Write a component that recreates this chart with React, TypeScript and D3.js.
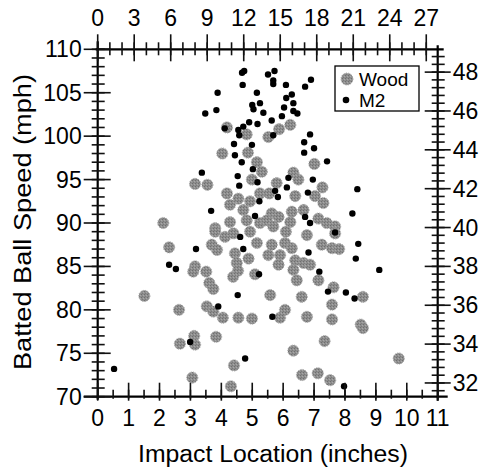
import React from "react";
import * as d3 from "d3";

// Wood bat: impact location (inches) and batted ball speed (mph)
const woodImpact = [
  4.18, 6.23, 5.87, 2.12, 2.31, 1.51, 2.63, 3.83, 3.12, 3.15, 2.66, 4.41, 3.06, 4.31,
  8.58, 8.51, 8.58, 7.34, 6.33, 9.74, 6.61, 7.12, 7.52,
  4.82, 4.03, 4.86, 5.15, 5.31, 3.15, 3.55, 4.18, 4.99, 4.55, 4.93, 4.28, 4.71, 5.25,
  4.28, 3.8, 4.82, 5.25,
  5.52, 7.01, 6.33, 6.49, 5.79, 5.55, 7.27, 6.39, 7.03, 7.3, 5.63, 5.85, 6.28, 6.66,
  5.47, 5.68, 6.23, 7.14, 7.41, 7.68,
  3.8, 4.12, 4.39, 3.69, 3.86, 4.44, 4.88, 5.15, 4.5, 3.15, 3.09, 3.51, 3.61, 3.74,
  4.38, 4.54, 5.09, 3.53, 3.74, 4.05, 4.55, 4.99, 4.93,
  6.09, 6.77, 5.63, 6.06, 6.28, 7.25, 7.58, 7.81, 5.52, 5.9, 5.85, 6.39, 6.66, 6.33,
  6.87, 6.44, 7.14, 7.63, 5.58, 6.6, 7.58, 6.06, 5.9, 6.77, 7.58, 7.68,
];
const woodSpeed = [
  101.0, 101.3, 100.8, 90.0, 87.2, 81.6, 80.0, 76.9, 77.0, 76.0, 76.1, 73.6, 72.2, 71.2,
  81.5, 78.3, 77.9, 76.4, 75.3, 74.4, 72.5, 72.7, 71.9,
  100.2, 98.0, 98.1, 97.0, 95.9, 94.5, 94.4, 93.4, 95.0, 92.8, 92.5, 92.1, 91.5, 93.4,
  90.1, 89.4, 90.3, 90.0,
  99.9, 96.8, 95.8, 95.0, 94.6, 93.4, 94.1, 93.1, 93.1, 92.3, 91.1, 90.7, 91.3, 91.5,
  90.3, 89.6, 90.1, 90.5, 90.0, 89.6,
  89.0, 88.4, 88.8, 87.5, 86.9, 86.5, 85.9, 87.7, 85.4, 85.0, 84.4, 84.4, 83.1, 82.4,
  83.8, 84.5, 84.1, 80.4, 79.8, 79.1, 79.1, 79.0, 89.0,
  89.0, 88.6, 87.5, 87.7, 87.1, 87.5, 87.1, 87.0, 86.3, 86.3, 85.2, 85.7, 85.4, 84.6,
  85.2, 83.4, 83.4, 82.6, 81.7, 81.5, 80.6, 80.0, 79.1, 79.2, 78.9, 88.8,
];

// M2 bat
const m2Impact = [
  4.74, 4.67, 4.69, 3.88, 3.84, 3.48, 4.11, 4.55, 4.71, 5.51, 5.72, 5.68, 5.68, 6.9,
  6.71, 6.09, 5.15, 6.28, 6.1, 5.25, 5.0, 5.04, 5.36, 6.33, 6.03, 6.33, 6.46, 5.96,
  5.63, 4.9, 5.17,
  8.4, 2.31, 2.53, 2.99, 4.77, 0.53, 8.24, 8.43, 8.35, 9.11, 8.31, 7.97,
  4.58, 4.41, 4.99, 4.44, 4.66, 5.02, 3.37, 4.53, 4.58, 5.17, 5.23, 3.67, 5.09,
  5.68, 6.87, 6.68, 7.0, 6.68, 7.42, 6.17, 6.96, 6.12, 5.74, 5.83, 6.8, 6.71, 6.87,
  4.61, 3.18, 4.71, 5.22, 4.53, 3.9,
  7.68, 6.82, 7.17, 7.45, 8.03, 5.65,
];
const m2Speed = [
  107.5, 107.3, 105.9, 105.0, 103.0, 102.6, 100.9, 100.7, 101.1, 107.1, 107.5, 106.4,
  106.0, 106.5, 105.7, 105.9, 105.0, 104.8, 104.4, 103.8, 103.6, 103.1, 102.7, 103.8,
  103.3, 102.9, 102.6, 102.3, 101.8, 101.6, 101.4,
  93.9, 85.2, 84.7, 76.3, 74.4, 73.2, 91.1, 87.6, 85.9, 84.6, 81.3, 71.2,
  100.1, 99.1, 99.0, 97.8, 97.0, 96.2, 95.8, 95.4, 94.3, 94.7, 92.5, 91.4, 90.8,
  100.1, 100.2, 99.3, 98.6, 98.1, 97.1, 95.2, 95.0, 94.1, 93.7, 93.0, 93.5, 90.7, 90.0,
  88.4, 87.0, 87.0, 84.1, 81.7, 80.4,
  88.9, 86.6, 84.4, 82.1, 82.0, 79.2,
];

// tick labels
const speedTicks = [70, 75, 80, 85, 90, 95, 100, 105, 110];
const impactTicks = [0, 1, 2, 3, 4, 5, 6, 7, 8, 9, 10, 11];
const cmTicks = [0, 3, 6, 9, 12, 15, 18, 21, 24, 27];
const msTicks = [32, 34, 36, 38, 40, 42, 44, 46, 48];

const MPH_PER_MS = 2.23694;
const CM_PER_IN = 2.54;
const font = "'Liberation Sans', Arial, Helvetica, sans-serif";

export default function App() {
  const width = 484;
  const height = 467;
  const x = d3.scaleLinear().domain([0, 11]).range([97.7, 437.7]);
  const y = d3.scaleLinear().domain([70, 110]).range([396.7, 49.3]);
  const [x0, x1] = x.range();
  const [y0, y1] = y.range();

  const xCm = (cm: number) => x(cm / CM_PER_IN);
  const yMs = (ms: number) => y(ms * MPH_PER_MS);

  const speedMinor = d3.range(70, 110.5, 1);
  const impactMinor = d3.range(0, 11.01, 0.5);
  const cmMinor = d3.range(0, 28, 1);
  const msMinor = d3.range(31.6, 49.2, 0.4);

  const tick = { stroke: "#111", strokeWidth: 1.6 };

  return (
    <svg
      width={width}
      height={height}
      style={{ position: "absolute", left: 0, top: 0, background: "#fff" }}
      fontFamily={font}
    >
      <defs>
        <pattern id="speck" width="3" height="3" patternUnits="userSpaceOnUse">
          <rect width="3" height="3" fill="#8e8e8e" />
          <rect x="0" y="0" width="1" height="1" fill="#6f6f6f" />
          <rect x="2" y="1" width="1" height="1" fill="#a8a8a8" />
          <rect x="1" y="2" width="1" height="1" fill="#7a7a7a" />
        </pattern>
      </defs>

      {/* wood points */}
      <g>
        {woodImpact.map((d, i) => (
          <circle
            key={`w-${i}`}
            cx={x(d)}
            cy={y(woodSpeed[i])}
            r={5.6}
            fill="url(#speck)"
            stroke="#a6a6a6"
            strokeWidth={1}
            strokeDasharray="1.2 1.2"
          />
        ))}
      </g>
      {/* M2 points */}
      <g>
        {m2Impact.map((d, i) => (
          <circle key={`m-${i}`} cx={x(d)} cy={y(m2Speed[i])} r={3.2} fill="#000" />
        ))}
      </g>

      {/* frame */}
      <g stroke="#000" strokeWidth={2.2} fill="none">
        <line x1={x0} x2={x0} y1={y1 - 8} y2={y0 + 3} />
        <line x1={x0 - 14} x2={x1 + 10} y1={y0} y2={y0} />
        <line x1={x0 - 2} x2={x1 + 6} y1={y1} y2={y1} />
        <line x1={x1} x2={x1} y1={y1 - 4} y2={y0 + 4} />
      </g>

      {/* left axis (mph) */}
      <g {...tick}>
        {speedMinor.map((v) => (
          <line key={`lm-${v}`} x1={x0 - 6} x2={x0 + 7} y1={y(v)} y2={y(v)} />
        ))}
        {speedTicks.map((v) => (
          <line key={`lM-${v}`} x1={x0 - 14} x2={x0 + 13} y1={y(v)} y2={y(v)} />
        ))}
      </g>
      <g fontSize={23} textAnchor="end">
        {speedTicks.map((v) => (
          <text key={`lt-${v}`} x={x0 - 16} y={y(v) + 8}>
            {v}
          </text>
        ))}
      </g>

      {/* bottom axis (inches) */}
      <g {...tick}>
        {impactMinor.map((v) => (
          <line key={`bm-${v}`} x1={x(v)} x2={x(v)} y1={y0 - 7} y2={y0 + 2} />
        ))}
        {impactTicks.map((v) => (
          <line key={`bM-${v}`} x1={x(v)} x2={x(v)} y1={y0 - 14} y2={y0 + 4} />
        ))}
      </g>
      <g fontSize={23} textAnchor="middle">
        {impactTicks.map((v) => (
          <text key={`bt-${v}`} x={x(v)} y={y0 + 29}>
            {v}
          </text>
        ))}
      </g>

      {/* top axis (cm) */}
      <g {...tick}>
        {cmMinor.map((v) => (
          <line key={`tm-${v}`} x1={xCm(v)} x2={xCm(v)} y1={y1 - 7} y2={y1 + 6} />
        ))}
        {cmTicks.map((v) => (
          <line key={`tM-${v}`} x1={xCm(v)} x2={xCm(v)} y1={y1 - 15} y2={y1 + 12} />
        ))}
      </g>
      <g fontSize={23} textAnchor="middle">
        {cmTicks.map((v) => (
          <text key={`tt-${v}`} x={xCm(v)} y={26}>
            {v}
          </text>
        ))}
      </g>

      {/* right axis (m/s) */}
      <g {...tick}>
        {msMinor.map((v) => (
          <line key={`rm-${v}`} x1={x1 - 6} x2={x1 + 7} y1={yMs(v)} y2={yMs(v)} />
        ))}
        {msTicks.map((v) => (
          <line key={`rM-${v}`} x1={x1 - 13} x2={x1 + 13} y1={yMs(v)} y2={yMs(v)} />
        ))}
      </g>
      <g fontSize={23} textAnchor="start">
        {msTicks.map((v) => (
          <text key={`rt-${v}`} x={x1 + 15} y={yMs(v) + 8}>
            {v}
          </text>
        ))}
      </g>

      {/* axis titles */}
      <text
        x={273}
        y={462}
        fontSize={23}
        textAnchor="middle"
        textLength={270}
        lengthAdjust="spacingAndGlyphs"
      >
        Impact Location (inches)
      </text>
      <text
        transform={`translate(31, 222) rotate(-90)`}
        fontSize={23}
        textAnchor="middle"
        textLength={296}
        lengthAdjust="spacingAndGlyphs"
      >
        Batted Ball Speed (mph)
      </text>

      {/* legend */}
      <g>
        <rect x={335} y={66} width={84} height={45} fill="#fff" stroke="#000" strokeWidth={1.3} />
        <circle cx={347} cy={79} r={6} fill="url(#speck)" stroke="#a6a6a6" strokeDasharray="1.2 1.2" />
        <text x={359} y={86} fontSize={19}>
          Wood
        </text>
        <circle cx={346} cy={100} r={3.3} fill="#000" />
        <text x={359} y={107} fontSize={19}>
          M2
        </text>
      </g>
    </svg>
  );
}
